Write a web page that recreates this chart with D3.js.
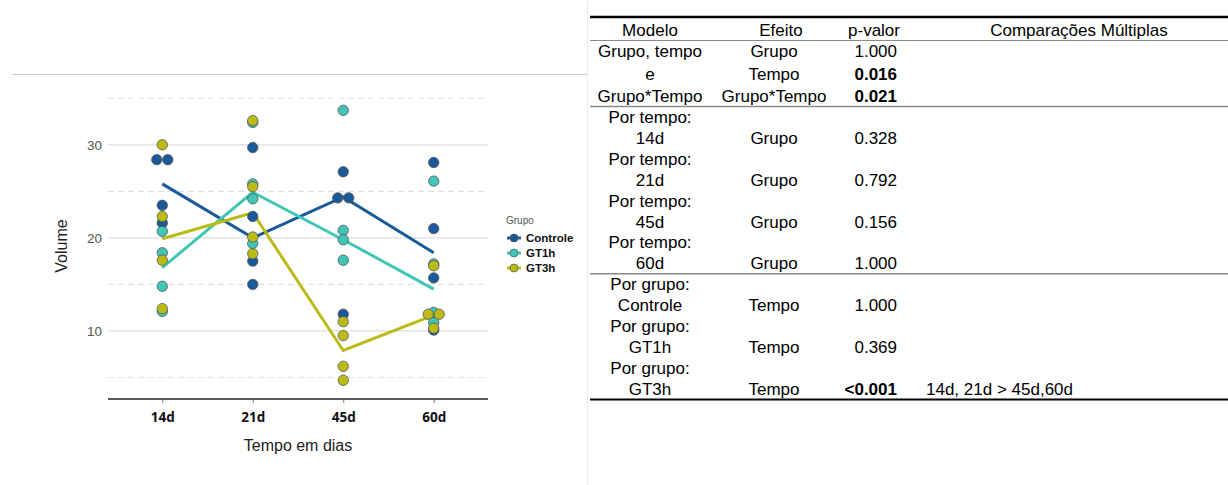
<!DOCTYPE html>
<html>
<head>
<meta charset="utf-8">
<script src="https://cdn.jsdelivr.net/npm/d3@7"></script>
<style>
  body { margin: 0; background: #fff; }
  svg { display: block; font-family: "Liberation Sans", Arial, sans-serif; }
</style>
</head>
<body>
<svg id="root" width="1228" height="485"></svg>
<script>
// ---- data ----
const tempos = ["14d", "21d", "45d", "60d"];
const grupos = ["Controle", "GT1h", "GT3h"];
const cores = ["#1a5a98", "#3fc6b6", "#bbbb17"];

// individual observations, one inner list per tempo
const controleVals = [[28.4, 28.4, 23.5, 21.6], [29.7, 22.3, 17.5, 15.0], [27.1, 24.3, 24.3, 11.8], [28.1, 21.0, 15.7, 10.1]];
const gt1hVals = [[20.7, 18.4, 14.8, 12.1], [32.4, 25.8, 24.2, 19.4], [33.7, 20.8, 19.8, 17.6], [26.1, 17.2, 12.0, 10.9]];
const gt3hVals = [[30.0, 22.3, 17.6, 12.4], [32.6, 25.5, 20.1, 18.3], [11.0, 9.5, 6.2, 4.7], [17.0, 11.8, 11.8, 10.3]];

// group means per tempo (lines)
const controleMean = [25.8, 20.0, 24.4, 18.4];
const gt1hMean = [16.8, 24.9, 19.8, 14.5];
const gt3hMean = [19.9, 22.7, 7.9, 11.7];

const yTicks = [10, 20, 30];
const yMinor = [5, 15, 25, 35];

// table
const tabHeader = ["Modelo", "Efeito", "p-valor", "Comparações Múltiplas"];
const tabModelo = ["Grupo, tempo", "e", "Grupo*Tempo", "Por tempo:", "14d", "Por tempo:", "21d", "Por tempo:", "45d", "Por tempo:", "60d",
  "Por grupo:", "Controle", "Por grupo:", "GT1h", "Por grupo:", "GT3h"];
const tabEfeito = ["Grupo", "Tempo", "Grupo*Tempo", "", "Grupo", "", "Grupo", "", "Grupo", "", "Grupo", "", "Tempo", "", "Tempo", "", "Tempo"];
const tabP = ["1.000", "0.016", "0.021", "", "0.328", "", "0.792", "", "0.156", "", "1.000", "", "1.000", "", "0.369", "", "<0.001"];
const tabPBold = [false, true, true, false, false, false, false, false, false, false, false, false, false, false, false, false, true];
const tabComp = ["", "", "", "", "", "", "", "", "", "", "", "", "", "", "", "", "14d, 21d > 45d,60d"];
const tabSeparators = [3, 11]; // line above these rows

const svg = d3.select("#root");
svg.append("rect").attr("width", 1228).attr("height", 485).attr("fill", "#fff");

// frame lines of the pasted figure
svg.append("line").attr("x1", 12).attr("x2", 588).attr("y1", 74.5).attr("y2", 74.5)
    .attr("stroke", "#c9c9c9").attr("stroke-width", 1);
svg.append("line").attr("x1", 587.5).attr("x2", 587.5).attr("y1", 0).attr("y2", 485)
    .attr("stroke", "#ececec").attr("stroke-width", 1);

// ---- chart ----
const panel = { left: 108, right: 488, top: 88, bottom: 399 };

const x = d3.scalePoint()
    .domain(tempos)
    .range([panel.left, panel.right])
    .padding(0.6);

const y = d3.scaleLinear()
    .domain([2.69, 36.1])
    .range([panel.bottom, panel.top]);

const g = svg.append("g");

// grid
g.selectAll(".minor").data(yMinor).enter().append("line")
    .attr("x1", panel.left).attr("x2", panel.right)
    .attr("y1", d => y(d)).attr("y2", d => y(d))
    .attr("stroke", "#e1e1e1").attr("stroke-width", 1.2)
    .attr("stroke-dasharray", "6,4");
g.selectAll(".major").data(yTicks).enter().append("line")
    .attr("x1", panel.left).attr("x2", panel.right)
    .attr("y1", d => y(d)).attr("y2", d => y(d))
    .attr("stroke", "#dcdcdc").attr("stroke-width", 1.2);

// y tick labels
const yAxis = g.append("g")
    .attr("transform", "translate(" + panel.left + ",0)")
    .call(d3.axisLeft(y).tickValues(yTicks).tickSize(0).tickPadding(6));
yAxis.select(".domain").remove();
yAxis.selectAll("text").attr("font-size", 13.5).attr("fill", "#555")
    .attr("font-family", "Liberation Sans, Arial, sans-serif");

// x axis
const xAxis = g.append("g")
    .attr("transform", "translate(0," + panel.bottom + ")")
    .call(d3.axisBottom(x).tickSize(4).tickPadding(9).tickSizeOuter(0));
xAxis.select(".domain").attr("stroke", "#222").attr("stroke-width", 1.3)
    .attr("d", "M" + panel.left + ",0H" + panel.right);
xAxis.selectAll(".tick line").attr("stroke", "#777");
xAxis.selectAll("text").attr("font-size", 13.5).attr("font-weight", "bold").attr("fill", "#111")
    .attr("font-family", "Open Sans, Liberation Sans, sans-serif");

// axis titles
g.append("text").attr("x", 298).attr("y", 451).attr("text-anchor", "middle")
    .attr("font-size", 16).attr("fill", "#222").text("Tempo em dias");
g.append("text").attr("transform", "translate(67,246) rotate(-90)").attr("text-anchor", "middle")
    .attr("font-size", 16).attr("fill", "#222").text("Volume");

const valsByGroup = [controleVals, gt1hVals, gt3hVals];
const meansByGroup = [controleMean, gt1hMean, gt3hMean];

// mean lines
const line = d3.line().x((d, i) => x(tempos[i])).y(d => y(d));
meansByGroup.forEach((m, gi) => {
    g.append("path").datum(m)
        .attr("d", line)
        .attr("fill", "none")
        .attr("stroke", cores[gi])
        .attr("stroke-width", 3);
});

// points, with small dodge for tied values
valsByGroup.forEach((vals, gi) => {
    const pts = [];
    vals.forEach((arr, ti) => {
        arr.forEach((v, k) => {
            const ties = arr.filter(w => Math.abs(w - v) < 0.15);
            let dx = 0;
            if (ties.length > 1) {
                const idx = arr.slice(0, k + 1).filter(w => Math.abs(w - v) < 0.15).length - 1;
                dx = (idx - (ties.length - 1) / 2) * 11;
            }
            pts.push({ t: tempos[ti], v: v, dx: dx });
        });
    });
    g.selectAll(".pt" + gi).data(pts).enter().append("circle")
        .attr("cx", d => x(d.t) + d.dx)
        .attr("cy", d => y(d.v))
        .attr("r", 5.2)
        .attr("fill", cores[gi])
        .attr("stroke", "#555")
        .attr("stroke-width", 0.8);
});

// legend
const leg = svg.append("g").attr("transform", "translate(506,0)");
leg.append("text").attr("x", 0).attr("y", 224).attr("font-size", 10).attr("fill", "#555").text("Grupo");
grupos.forEach((gr, i) => {
    const ly = 238 + i * 15;
    leg.append("line").attr("x1", 1).attr("x2", 15).attr("y1", ly).attr("y2", ly)
        .attr("stroke", cores[i]).attr("stroke-width", 3);
    leg.append("circle").attr("cx", 8).attr("cy", ly).attr("r", 4)
        .attr("fill", cores[i]).attr("stroke", "#555").attr("stroke-width", 0.7);
    leg.append("text").attr("x", 20).attr("y", ly + 4).attr("font-size", 11.5).attr("font-weight", "bold")
        .attr("fill", "#111").text(gr);
});

// ---- table ----
const tab = svg.append("g").attr("font-size", 17).attr("fill", "#000");
const colModelo = 650, colEfeito = 774, colP = 897, colComp = 926;
// first block rows are a bit taller than the rest
const rowY = i => i < 3 ? 51 + i * 22.5 : 117 + (i - 3) * 20.9;

tab.append("line").attr("x1", 590).attr("x2", 1228).attr("y1", 17).attr("y2", 17)
    .attr("stroke", "#000").attr("stroke-width", 2.5);
tab.append("line").attr("x1", 590).attr("x2", 1228).attr("y1", 40.5).attr("y2", 40.5)
    .attr("stroke", "#8a8a8a").attr("stroke-width", 1.2);
tabSeparators.forEach(r => {
    const ly = (rowY(r) + rowY(r - 1)) / 2;
    tab.append("line").attr("x1", 590).attr("x2", 1228).attr("y1", ly).attr("y2", ly)
        .attr("stroke", "#8a8a8a").attr("stroke-width", 1.5);
});
tab.append("line").attr("x1", 590).attr("x2", 1228).attr("y1", 399.5).attr("y2", 399.5)
    .attr("stroke", "#000").attr("stroke-width", 2.2);

const headerX = [650, 781, 874, 1079];
tabHeader.forEach((h, i) => {
    tab.append("text").attr("x", headerX[i]).attr("y", 36).attr("text-anchor", "middle").text(h);
});

tabModelo.forEach((m, i) => {
    const ty = rowY(i) + 6;
    tab.append("text").attr("x", colModelo).attr("y", ty).attr("text-anchor", "middle").text(m);
    if (tabEfeito[i]) tab.append("text").attr("x", colEfeito).attr("y", ty).attr("text-anchor", "middle").text(tabEfeito[i]);
    if (tabP[i]) tab.append("text").attr("x", colP).attr("y", ty).attr("text-anchor", "end")
        .attr("font-weight", tabPBold[i] ? "bold" : "normal").text(tabP[i]);
    if (tabComp[i]) tab.append("text").attr("x", colComp).attr("y", ty).text(tabComp[i]);
});
</script>
</body>
</html>
